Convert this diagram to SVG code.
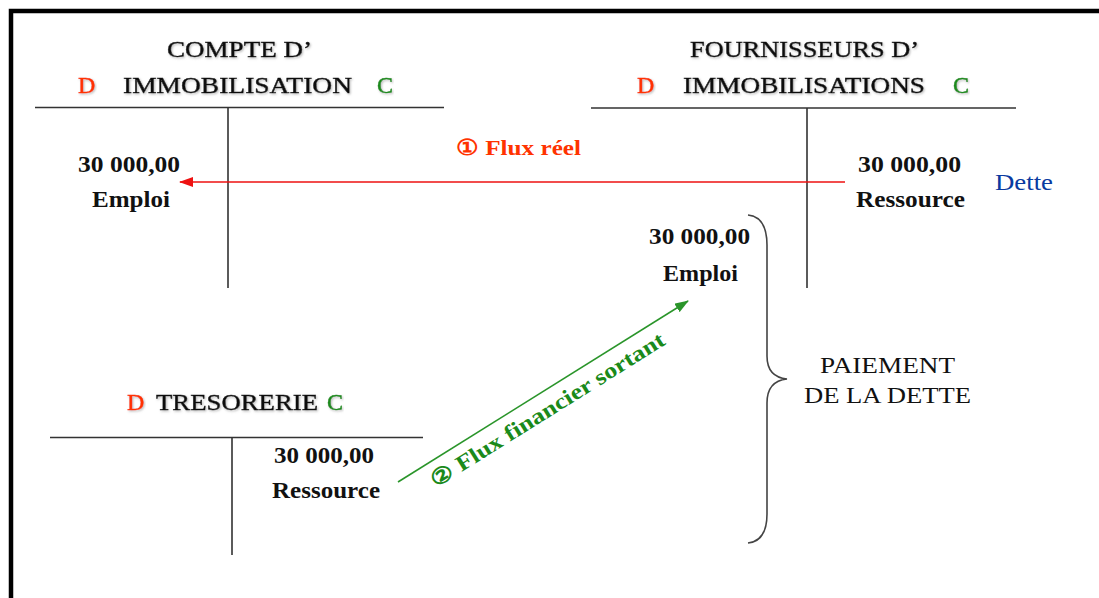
<svg xmlns="http://www.w3.org/2000/svg" width="1099" height="598" viewBox="0 0 1099 598">
<defs>
<style>
text{font-family:"Liberation Serif","Times New Roman",serif;fill:#111}
.h{font-size:24px;filter:url(#sh);stroke:#111;stroke-width:0.45}
.h.red{stroke:#ff3300}
.h.grn{stroke:#1a8a1a}
.b{font-size:24px;font-weight:bold}
.f{font-size:22px;font-weight:bold}
.n{font-size:24px}
.red{fill:#ff3300}
.grn{fill:#1a8a1a}
.blu{fill:#0a3aa0}
.tl{stroke:#333;stroke-width:1.6;fill:none}
</style>
<filter id="sh" x="-5%" y="-20%" width="110%" height="150%">
<feDropShadow dx="1" dy="1.2" stdDeviation="0.8" flood-color="#888" flood-opacity="0.6"/>
</filter>
<marker id="ar" markerUnits="userSpaceOnUse" markerWidth="14" markerHeight="10" refX="13" refY="5" orient="auto">
<path d="M0,0 L14,5 L0,10 Z" fill="#ee1111"/>
</marker>
<marker id="ag" markerUnits="userSpaceOnUse" markerWidth="14" markerHeight="10" refX="13" refY="5" orient="auto">
<path d="M0,0 L14,5 L0,10 Z" fill="#2a952a"/>
</marker>
</defs>
<rect width="1099" height="598" fill="#fff"/>
<path d="M11,600 V11 H1102" fill="none" stroke="#000" stroke-width="4.5"/>

<g id="compte-immobilisation">
<text class="h" x="167" y="57" textLength="145" lengthAdjust="spacingAndGlyphs">COMPTE D’</text>
<text class="h red" x="78" y="93">D</text>
<text class="h" x="123" y="93" textLength="229" lengthAdjust="spacingAndGlyphs">IMMOBILISATION</text>
<text class="h grn" x="377" y="93">C</text>
<path class="tl" d="M35,107.5 H444 M228,107.5 V288"/>
<text class="b" x="78" y="172" textLength="102" lengthAdjust="spacingAndGlyphs">30 000,00</text>
<text class="b" x="92" y="207" textLength="78" lengthAdjust="spacingAndGlyphs">Emploi</text>
</g>

<g id="fournisseurs-immobilisations">
<text class="h" x="690" y="57" textLength="229" lengthAdjust="spacingAndGlyphs">FOURNISSEURS D’</text>
<text class="h red" x="637" y="93">D</text>
<text class="h" x="683" y="93" textLength="242" lengthAdjust="spacingAndGlyphs">IMMOBILISATIONS</text>
<text class="h grn" x="953" y="93">C</text>
<path class="tl" d="M591,108 H1016 M807,108 V288"/>
<text class="b" x="858" y="172" textLength="103" lengthAdjust="spacingAndGlyphs">30 000,00</text>
<text class="b" x="856" y="207" textLength="109" lengthAdjust="spacingAndGlyphs">Ressource</text>
<text class="n blu" x="995" y="190" textLength="58" lengthAdjust="spacingAndGlyphs">Dette</text>
<text class="b" x="649" y="244" textLength="101" lengthAdjust="spacingAndGlyphs">30 000,00</text>
<text class="b" x="663" y="281" textLength="75" lengthAdjust="spacingAndGlyphs">Emploi</text>
</g>

<g id="tresorerie">
<text class="h red" x="127" y="410">D</text>
<text class="h" x="156" y="410" textLength="162" lengthAdjust="spacingAndGlyphs">TRESORERIE</text>
<text class="h grn" x="327" y="410">C</text>
<path class="tl" d="M50,437.5 H423 M232,437.5 V555"/>
<text class="b" x="274" y="463" textLength="100" lengthAdjust="spacingAndGlyphs">30 000,00</text>
<text class="b" x="272" y="498" textLength="108" lengthAdjust="spacingAndGlyphs">Ressource</text>
</g>

<g id="paiement">
<path d="M748,215 Q767,217 767,245 L767,356 Q767,377 787,379 Q767,381 767,403 L767,514 Q767,541 748,543" fill="none" stroke="#444" stroke-width="1.6"/>
<text class="n" x="820" y="373" textLength="135" lengthAdjust="spacingAndGlyphs">PAIEMENT</text>
<text class="n" x="804" y="403" textLength="167" lengthAdjust="spacingAndGlyphs">DE LA DETTE</text>
</g>

<g id="connectors">
<line x1="845" y1="182" x2="180" y2="182" stroke="#ee1111" stroke-width="1.6" marker-end="url(#ar)"/>
<text class="f red" x="456" y="155" textLength="125" lengthAdjust="spacingAndGlyphs">① Flux réel</text>
<line x1="398" y1="482" x2="688" y2="301" stroke="#2a952a" stroke-width="1.6" marker-end="url(#ag)"/>
<text class="f grn" transform="translate(436,488) rotate(-32)" x="0" y="0" textLength="272" lengthAdjust="spacingAndGlyphs">② Flux financier sortant</text>
</g>
</svg>
